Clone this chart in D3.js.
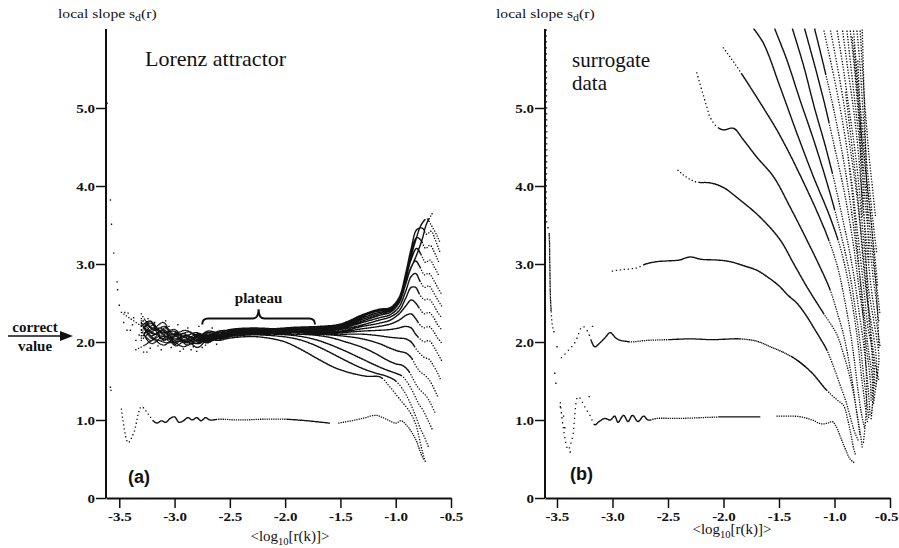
<!DOCTYPE html>
<html>
<head>
<meta charset="utf-8">
<script src="https://cdn.jsdelivr.net/npm/d3@7"></script>
<style>
  body { margin: 0; background: #fff; }
  svg { display: block; }
  text { font-family: "Liberation Serif", "Times New Roman", serif; fill: #111; }
</style>
</head>
<body>
<div id="chart"></div>
<script>
// ---- axis values ----
const xTicks = [-3.5, -3.0, -2.5, -2.0, -1.5, -1.0, -0.5];
const yTicks = [0, 1, 2, 3, 4, 5];

// ---- panel (a): Lorenz attractor, one curve per embedding dimension ----
const lorenz1 = [[-3.48,1.14],[-3.42,0.71],[-3.37,0.83],[-3.3,1.17],[-3.24,1.08],[-3.2,1.0],[-3.16,0.96],[-3.12,0.99],[-3.08,0.97],[-3.04,1.02],[-3.0,1.04],[-2.96,0.97],[-2.92,0.99],[-2.88,1.03],[-2.84,1.0],[-2.8,1.03],[-2.76,0.99],[-2.72,1.03],[-2.68,1.0],[-2.6,1.01],[-2.4,1.0],[-2.2,1.01],[-2.0,1.01],[-1.8,0.99],[-1.6,0.96],null,[-1.52,0.96],[-1.4,0.99],[-1.3,1.02],[-1.18,1.06],[-1.1,1.02],[-1.0,0.96],[-0.95,0.99],[-0.9,0.93],[-0.85,0.83],[-0.81,0.72],[-0.78,0.6],[-0.75,0.5]];
const lorenz2 = [[-3.35,1.9],[-3.27,1.96],[-3.18,2.03],[-3.07,1.99],[-2.95,2.01],[-2.83,1.98],[-2.7,2.03],[-2.6,2.02],[-2.5,2.05],[-2.3,2.07],[-2.15,2.05],[-2.0,2.0],[-1.85,1.9],[-1.7,1.78],[-1.55,1.67],[-1.4,1.6],[-1.26,1.56],[-1.14,1.55],[-1.05,1.42],[-0.96,1.26],[-0.88,1.12],[-0.82,0.95],[-0.78,0.72],[-0.75,0.55],[-0.73,0.46]];
const lorenz3 = [[-3.3,2.16],[-3.22,2.02],[-3.12,2.08],[-3.02,1.99],[-2.9,2.03],[-2.78,1.98],[-2.7,2.05],[-2.6,2.04],[-2.5,2.07],[-2.3,2.09],[-2.1,2.08],[-1.9,2.04],[-1.75,1.97],[-1.6,1.87],[-1.45,1.76],[-1.3,1.66],[-1.18,1.6],[-1.08,1.56],[-1.0,1.5],[-0.93,1.38],[-0.87,1.22],[-0.82,1.05],[-0.78,0.9],[-0.74,0.78],[-0.7,0.64]];
const lorenz4 = [[-3.3,2.02],[-3.21,2.12],[-3.08,2.03],[-2.98,2.07],[-2.88,2.0],[-2.8,2.05],[-2.7,2.01],[-2.6,2.07],[-2.5,2.08],[-2.3,2.1],[-2.1,2.1],[-1.9,2.08],[-1.75,2.04],[-1.6,1.97],[-1.45,1.88],[-1.3,1.78],[-1.18,1.7],[-1.08,1.64],[-1.0,1.6],[-0.94,1.56],[-0.88,1.45],[-0.83,1.32],[-0.79,1.2],[-0.75,1.12],[-0.71,1.0],[-0.67,0.88]];
const lorenz5 = [[-3.3,2.22],[-3.19,2.1],[-3.1,2.13],[-3.0,2.04],[-2.91,2.08],[-2.8,2.02],[-2.7,2.08],[-2.6,2.06],[-2.5,2.1],[-2.3,2.12],[-2.1,2.11],[-1.9,2.1],[-1.75,2.09],[-1.6,2.06],[-1.45,2.0],[-1.3,1.93],[-1.18,1.85],[-1.08,1.77],[-1.0,1.72],[-0.94,1.7],[-0.89,1.64],[-0.84,1.52],[-0.8,1.42],[-0.76,1.36],[-0.72,1.3],[-0.68,1.2],[-0.64,1.08]];
const lorenz6 = [[-3.3,2.08],[-3.17,2.17],[-3.06,2.05],[-2.97,2.1],[-2.86,2.03],[-2.8,2.08],[-2.7,2.05],[-2.6,2.1],[-2.5,2.11],[-2.3,2.13],[-2.1,2.12],[-1.9,2.12],[-1.7,2.1],[-1.5,2.08],[-1.3,2.04],[-1.15,1.98],[-1.05,1.92],[-0.97,1.88],[-0.91,1.86],[-0.86,1.8],[-0.82,1.7],[-0.78,1.62],[-0.74,1.58],[-0.7,1.52],[-0.66,1.42],[-0.62,1.3]];
const lorenz7 = [[-3.3,2.27],[-3.23,2.13],[-3.13,2.18],[-3.03,2.06],[-2.93,2.11],[-2.82,2.05],[-2.7,2.1],[-2.6,2.08],[-2.5,2.12],[-2.3,2.14],[-2.1,2.13],[-1.9,2.12],[-1.7,2.11],[-1.5,2.1],[-1.3,2.1],[-1.15,2.08],[-1.05,2.06],[-0.97,2.05],[-0.91,2.04],[-0.86,2.0],[-0.82,1.92],[-0.78,1.85],[-0.74,1.8],[-0.7,1.78],[-0.66,1.7],[-0.62,1.6],[-0.59,1.5]];
const lorenz8 = [[-3.3,2.16],[-3.2,2.24],[-3.11,2.1],[-3.01,2.14],[-2.89,2.05],[-2.79,2.1],[-2.7,2.06],[-2.6,2.12],[-2.5,2.13],[-2.3,2.15],[-2.1,2.14],[-1.9,2.13],[-1.7,2.12],[-1.5,2.12],[-1.3,2.14],[-1.15,2.15],[-1.05,2.16],[-0.97,2.18],[-0.91,2.2],[-0.86,2.18],[-0.82,2.1],[-0.78,2.04],[-0.74,2.0],[-0.7,2.02],[-0.66,1.95],[-0.62,1.85],[-0.58,1.75]];
const lorenz9 = [[-3.3,2.3],[-3.18,2.15],[-3.09,2.2],[-2.99,2.08],[-2.87,2.13],[-2.8,2.07],[-2.7,2.12],[-2.6,2.1],[-2.5,2.14],[-2.3,2.16],[-2.1,2.15],[-1.9,2.14],[-1.7,2.13],[-1.5,2.13],[-1.3,2.17],[-1.15,2.2],[-1.05,2.23],[-0.97,2.28],[-0.91,2.34],[-0.86,2.36],[-0.82,2.3],[-0.78,2.22],[-0.74,2.18],[-0.7,2.2],[-0.66,2.14],[-0.62,2.05],[-0.58,1.98]];
const lorenz10 = [[-3.3,2.2],[-3.22,2.27],[-3.12,2.12],[-3.0,2.16],[-2.92,2.07],[-2.81,2.12],[-2.7,2.08],[-2.6,2.14],[-2.5,2.15],[-2.3,2.17],[-2.1,2.16],[-1.9,2.15],[-1.7,2.14],[-1.5,2.14],[-1.3,2.2],[-1.15,2.24],[-1.05,2.28],[-0.97,2.36],[-0.91,2.46],[-0.86,2.54],[-0.82,2.5],[-0.78,2.42],[-0.74,2.36],[-0.7,2.38],[-0.66,2.32],[-0.62,2.22],[-0.58,2.15]];
const lorenz11 = [[-3.3,2.36],[-3.2,2.18],[-3.1,2.25],[-3.02,2.1],[-2.9,2.15],[-2.78,2.08],[-2.7,2.14],[-2.6,2.12],[-2.5,2.16],[-2.3,2.18],[-2.1,2.17],[-1.9,2.16],[-1.7,2.15],[-1.5,2.16],[-1.3,2.22],[-1.15,2.28],[-1.05,2.32],[-0.97,2.4],[-0.91,2.56],[-0.86,2.7],[-0.82,2.7],[-0.78,2.6],[-0.74,2.54],[-0.7,2.55],[-0.66,2.48],[-0.62,2.38],[-0.58,2.3]];
const lorenz12 = [[-3.3,2.25],[-3.21,2.08],[-3.1,2.16],[-3.0,2.02],[-2.89,2.09],[-2.8,2.01],[-2.7,2.07],[-2.6,2.05],[-2.5,2.09],[-2.3,2.11],[-2.1,2.12],[-1.9,2.13],[-1.7,2.14],[-1.5,2.17],[-1.3,2.25],[-1.15,2.31],[-1.05,2.35],[-0.97,2.45],[-0.91,2.65],[-0.86,2.84],[-0.82,2.88],[-0.78,2.78],[-0.74,2.7],[-0.7,2.72],[-0.66,2.64],[-0.62,2.54],[-0.58,2.45]];
const lorenz13 = [[-3.3,2.05],[-3.19,2.22],[-3.1,2.02],[-2.98,2.12],[-2.9,1.99],[-2.8,2.05],[-2.7,2.02],[-2.6,2.09],[-2.5,2.1],[-2.3,2.12],[-2.1,2.13],[-1.9,2.14],[-1.7,2.15],[-1.5,2.18],[-1.3,2.27],[-1.15,2.34],[-1.05,2.38],[-0.97,2.5],[-0.91,2.74],[-0.86,2.96],[-0.82,3.04],[-0.78,2.96],[-0.74,2.86],[-0.7,2.88],[-0.66,2.8],[-0.62,2.7],[-0.58,2.6]];
const lorenz14 = [[-3.3,2.3],[-3.18,2.1],[-3.08,2.18],[-3.0,1.97],[-2.91,2.06],[-2.8,1.98],[-2.7,2.06],[-2.6,2.06],[-2.5,2.1],[-2.3,2.13],[-2.1,2.14],[-1.9,2.15],[-1.7,2.16],[-1.5,2.19],[-1.3,2.29],[-1.15,2.36],[-1.05,2.4],[-0.97,2.53],[-0.91,2.8],[-0.86,3.06],[-0.81,3.2],[-0.77,3.12],[-0.73,3.02],[-0.69,3.05],[-0.65,2.96],[-0.61,2.85]];
const lorenz15 = [[-3.3,2.12],[-3.22,2.26],[-3.12,2.04],[-3.02,2.1],[-2.88,1.96],[-2.8,2.03],[-2.7,1.99],[-2.6,2.08],[-2.5,2.11],[-2.3,2.14],[-2.1,2.15],[-1.9,2.16],[-1.7,2.17],[-1.5,2.2],[-1.3,2.31],[-1.15,2.38],[-1.05,2.41],[-0.97,2.55],[-0.91,2.86],[-0.86,3.14],[-0.81,3.34],[-0.77,3.3],[-0.73,3.2],[-0.69,3.24],[-0.65,3.15],[-0.61,3.02]];
const lorenz16 = [[-3.3,2.24],[-3.2,2.04],[-3.11,2.15],[-2.99,1.95],[-2.9,2.02],[-2.79,1.93],[-2.7,2.04],[-2.6,2.07],[-2.5,2.12],[-2.3,2.15],[-2.1,2.16],[-1.9,2.17],[-1.7,2.18],[-1.5,2.21],[-1.3,2.33],[-1.15,2.4],[-1.05,2.42],[-0.97,2.56],[-0.91,2.88],[-0.86,3.2],[-0.81,3.44],[-0.76,3.46],[-0.72,3.38],[-0.68,3.42],[-0.64,3.3],[-0.6,3.15]];
const lorenz17 = [[-3.3,2.15],[-3.21,1.98],[-3.09,2.08],[-3.0,2.0],[-2.92,1.94],[-2.8,2.02],[-2.7,2.0],[-2.6,2.05],[-2.5,2.1],[-2.3,2.14],[-2.1,2.16],[-1.9,2.18],[-1.7,2.19],[-1.5,2.22],[-1.3,2.34],[-1.15,2.41],[-1.05,2.43],[-0.97,2.57],[-0.92,2.8],[-0.87,3.05],[-0.82,3.3],[-0.77,3.5],[-0.72,3.58],[-0.68,3.5],[-0.64,3.4],[-0.6,3.28]];
const lorenz18 = [[-3.48,2.38],[-3.4,2.3],[-3.3,2.2],[-3.2,2.06],[-3.1,1.96],[-3.0,2.04],[-2.9,2.0],[-2.8,2.07],[-2.7,2.03],[-2.6,2.09],[-2.5,2.12],[-2.3,2.15],[-2.1,2.17],[-1.9,2.19],[-1.7,2.2],[-1.5,2.23],[-1.3,2.35],[-1.15,2.42],[-1.05,2.44],[-0.97,2.56],[-0.93,2.68],[-0.87,2.92],[-0.81,3.12],[-0.76,3.32],[-0.72,3.52],[-0.66,3.67]];
const lorenzScatter = [[-3.61,5.06],[-3.58,3.82],[-3.57,3.51],[-3.55,3.14],[-3.52,2.77],[-3.515,2.67],[-3.5,2.47],[-3.48,2.38],[-3.45,2.38],[-3.42,2.37],[-3.37,2.31],[-3.43,2.15],[-3.4,2.15],[-3.32,2.09],[-3.28,1.87],[-3.25,1.87],[-3.58,1.42],[-3.575,1.38],[-3.46,2.25],[-3.38,2.22],[-3.35,2.02],[-3.22,1.92],[-3.18,2.25],[-3.12,1.9],[-3.05,2.2],[-2.95,1.88],[-2.85,1.9],[-2.8,1.88],[-2.75,1.93],[-3.27,2.12],[-3.24,2.3],[-3.15,1.95],[-3.08,2.27],[-3.03,1.93],[-2.97,2.22],[-2.92,1.91],[-2.88,2.18],[-2.83,1.94],[-2.78,2.2],[-2.72,1.96],[-2.66,2.18],[-2.62,1.97]];

// ---- panel (b): surrogate data ----
const surr1 = [[-3.47,1.22],[-3.44,0.87],[-3.4,0.62],[-3.36,0.78],[-3.31,1.3],[-3.25,1.17],[-3.2,1.05],[-3.16,0.94],[-3.12,0.98],[-3.07,1.02],[-3.02,1.0],[-2.98,1.05],[-2.95,0.97],[-2.9,1.06],[-2.86,0.98],[-2.82,1.06],[-2.77,0.98],[-2.72,1.05],[-2.68,1.0],[-2.6,1.02],[-2.4,1.02],[-2.2,1.03],[-2.0,1.04],[-1.8,1.04],[-1.67,1.04],null,[-1.52,1.05],[-1.4,1.05],[-1.3,1.04],[-1.2,1.0],[-1.12,0.95],[-1.06,0.96],[-1.02,0.98],[-0.98,0.9],[-0.94,0.76],[-0.9,0.62],[-0.86,0.5],[-0.82,0.45]];
const surr2 = [[-3.46,1.8],[-3.34,1.99],[-3.27,2.2],[-3.23,2.15],[-3.16,1.94],[-3.12,1.98],[-3.07,2.05],[-3.02,2.12],[-2.97,2.05],[-2.93,2.02],[-2.88,2.01],[-2.84,2.0],[-2.7,2.02],[-2.5,2.03],[-2.3,2.04],[-2.1,2.03],[-1.85,2.04],[-1.7,2.01],[-1.58,1.94],[-1.45,1.86],[-1.34,1.77],[-1.2,1.6],[-1.07,1.38],[-0.97,1.25],[-0.92,1.19],[-0.88,1.0],[-0.85,0.8],[-0.83,0.65],[-0.81,0.55]];
const surr3 = [[-3.0,2.91],[-2.9,2.93],[-2.78,2.95],[-2.7,3.0],[-2.6,3.03],[-2.5,3.04],[-2.4,3.05],[-2.3,3.09],[-2.2,3.06],[-2.05,3.05],[-1.94,3.03],[-1.8,2.97],[-1.7,2.92],[-1.61,2.84],[-1.5,2.72],[-1.42,2.6],[-1.34,2.5],[-1.26,2.35],[-1.19,2.19],[-1.13,2.05],[-1.07,1.9],[-1.0,1.65],[-0.95,1.45],[-0.9,1.25],[-0.86,1.05],[-0.82,0.85],[-0.78,0.72]];
const surr4 = [[-2.41,4.2],[-2.32,4.1],[-2.24,4.05],[-2.12,4.04],[-2.0,3.98],[-1.85,3.82],[-1.67,3.6],[-1.49,3.31],[-1.37,3.01],[-1.25,2.71],[-1.1,2.37],[-0.98,2.1],[-0.92,1.85],[-0.87,1.6],[-0.83,1.35],[-0.8,1.1],[-0.77,0.85],[-0.75,0.65]];
const surr5 = [[-2.24,5.45],[-2.15,5.01],[-2.12,4.88],[-2.06,4.76],[-2.0,4.72],[-1.91,4.74],[-1.82,4.59],[-1.7,4.37],[-1.55,4.12],[-1.4,3.73],[-1.25,3.31],[-1.13,2.96],[-1.04,2.67],[-0.98,2.4],[-0.92,2.1],[-0.87,1.75],[-0.83,1.4],[-0.8,1.1],[-0.77,0.8]];
const surr6 = [[-2.0,5.77],[-1.88,5.53],[-1.76,5.27],[-1.64,5.0],[-1.52,4.72],[-1.4,4.4],[-1.28,4.05],[-1.16,3.68],[-1.05,3.3],[-0.97,2.95],[-0.91,2.55],[-0.86,2.15],[-0.82,1.75],[-0.79,1.4],[-0.76,1.1],[-0.73,0.9]];
const surr7 = [[-1.73,6.02],[-1.64,5.83],[-1.49,5.27],[-1.34,4.68],[-1.19,4.12],[-1.04,3.6],[-0.95,3.22],[-0.88,2.8],[-0.83,2.4],[-0.79,2.0],[-0.76,1.6],[-0.73,1.25],[-0.7,0.95]];
const surr8 = [[-1.54,6.02],[-1.43,5.62],[-1.31,5.1],[-1.19,4.6],[-1.08,4.1],[-0.99,3.65],[-0.92,3.25],[-0.86,2.85],[-0.81,2.4],[-0.77,2.0],[-0.74,1.6],[-0.71,1.25],[-0.69,1.0]];
const surr9 = [[-1.38,6.02],[-1.28,5.55],[-1.18,5.0],[-1.08,4.5],[-1.0,4.05],[-0.93,3.6],[-0.87,3.2],[-0.82,2.8],[-0.78,2.4],[-0.74,2.0],[-0.71,1.6],[-0.69,1.3],[-0.68,1.05]];
const surr10 = [[-1.27,6.02],[-1.17,5.5],[-1.08,5.0],[-1.0,4.5],[-0.93,4.05],[-0.87,3.6],[-0.82,3.15],[-0.78,2.7],[-0.74,2.3],[-0.71,1.9],[-0.68,1.55],[-0.67,1.25]];
const surr11 = [[-1.18,6.02],[-1.09,5.5],[-1.01,5.0],[-0.94,4.5],[-0.88,4.0],[-0.83,3.5],[-0.79,3.05],[-0.75,2.6],[-0.72,2.2],[-0.69,1.85],[-0.66,1.55],[-0.66,1.3]];
const surr12 = [[-1.1,6.02],[-1.02,5.5],[-0.95,5.0],[-0.89,4.5],[-0.84,4.0],[-0.8,3.5],[-0.76,3.0],[-0.73,2.6],[-0.7,2.2],[-0.66,1.9],[-0.64,1.6],[-0.65,1.3],[-0.67,1.05]];
const surr13 = [[-1.04,6.02],[-0.97,5.5],[-0.91,5.0],[-0.86,4.5],[-0.81,4.0],[-0.77,3.5],[-0.74,3.0],[-0.71,2.6],[-0.67,2.25],[-0.64,2.0],[-0.62,1.7],[-0.63,1.4]];
const surr14 = [[-0.98,6.02],[-0.92,5.5],[-0.87,5.0],[-0.82,4.5],[-0.78,4.0],[-0.75,3.5],[-0.72,3.05],[-0.69,2.65],[-0.65,2.3],[-0.62,2.05],[-0.6,1.8],[-0.62,1.5],[-0.65,1.2]];
const surr15 = [[-0.93,6.02],[-0.88,5.5],[-0.83,5.0],[-0.79,4.5],[-0.76,4.0],[-0.73,3.55],[-0.7,3.1],[-0.67,2.7],[-0.64,2.4],[-0.61,2.15],[-0.59,1.95]];
const surr16 = [[-0.89,6.02],[-0.85,5.5],[-0.81,5.0],[-0.77,4.5],[-0.74,4.05],[-0.71,3.6],[-0.68,3.2],[-0.65,2.8],[-0.62,2.5],[-0.6,2.25]];
const surr17 = [[-0.86,6.02],[-0.82,5.5],[-0.79,5.0],[-0.76,4.55],[-0.73,4.1],[-0.7,3.7],[-0.67,3.3],[-0.64,2.9],[-0.61,2.6],[-0.59,2.35]];
const surr18 = [[-0.83,6.02],[-0.8,5.5],[-0.77,5.05],[-0.74,4.6],[-0.72,4.2],[-0.69,3.8],[-0.66,3.4],[-0.63,3.0],[-0.61,2.7]];
const surr19 = [[-0.8,6.02],[-0.77,5.55],[-0.75,5.1],[-0.73,4.7],[-0.71,4.3],[-0.68,3.9],[-0.65,3.5],[-0.62,3.15]];
const surr20 = [[-0.77,6.02],[-0.75,5.55],[-0.73,5.1],[-0.71,4.75],[-0.69,4.4],[-0.66,4.0],[-0.63,3.6]];
const surr21 = [[-0.84,5.9],[-0.8,5.3],[-0.76,4.7],[-0.72,4.2],[-0.68,3.7],[-0.65,3.2],[-0.63,2.8],[-0.61,2.3],[-0.6,1.9]];
const surr22 = [[-0.75,6.0],[-0.74,5.5],[-0.73,5.0],[-0.72,4.5],[-0.71,4.0],[-0.7,3.5],[-0.69,3.0]];
const surr23 = [[-0.9,5.2],[-0.85,4.6],[-0.8,4.0],[-0.76,3.4],[-0.72,2.8],[-0.69,2.3],[-0.66,1.8],[-0.65,1.4],[-0.67,1.0]];
const surr24 = [[-0.88,4.4],[-0.84,3.9],[-0.8,3.3],[-0.77,2.8],[-0.74,2.3],[-0.72,1.8],[-0.71,1.4],[-0.72,1.0],[-0.74,0.7]];
const surr25 = [[-0.79,5.6],[-0.77,5.0],[-0.75,4.4],[-0.74,3.8],[-0.72,3.2],[-0.7,2.6],[-0.67,2.1],[-0.63,1.7],[-0.6,1.5]];
const surr26 = [[-0.82,5.8],[-0.79,5.2],[-0.77,4.6],[-0.76,4.1],[-0.75,3.6]];
const surrEdge = [[-3.597,6.0],[-3.595,5.45],[-3.592,4.5],[-3.59,3.5],[-3.575,3.44],[-3.565,3.0],[-3.56,2.6],[-3.555,2.45],[-3.54,2.2],[-3.52,2.1]];
const surrScatter = [[-3.5,1.94],[-3.52,1.6],[-3.51,1.47],[-3.47,1.17],[-3.44,1.05],[-3.43,0.9],[-3.38,0.59],[-3.21,1.3],[-3.18,2.2]];

// ---- layout ----
const W = 899, H = 548;
const svg = d3.select("#chart").append("svg").attr("width", W).attr("height", H);

const y = d3.scaleLinear().domain([0, 6]).range([498, 30]);
const xa = d3.scaleLinear().domain([-3.62, -0.5]).range([106, 451]);
const xb = d3.scaleLinear().domain([-3.608, -0.5]).range([545, 890]);

const probe = svg.append("path").attr("fill", "none");

// sample each curve as a row of small dots, spaced by gap(x, y) in px
function dots(pts, x, gap) {
  const line = d3.line().defined(d => d !== null)
    .x(d => x(d[0])).y(d => y(d[1]))
    .curve(d3.curveCatmullRom.alpha(0.5));
  probe.attr("d", line(pts));
  const node = probe.node(), len = node.getTotalLength();
  let s = "";
  for (let l = 0; l <= len; ) {
    const p = node.getPointAtLength(l);
    if (p.y >= 29 && p.y <= 497)
      s += "M" + (p.x - 0.65).toFixed(1) + "," + (p.y - 0.65).toFixed(1) + "h1.3v1.3h-1.3z";
    l += gap(x.invert(p.x), y.invert(p.y));
  }
  return s;
}

function scatter(pts, x) {
  return pts.map(d => "M" + (x(d[0]) - 0.7).toFixed(1) + "," + (y(d[1]) - 0.7).toFixed(1) + "h1.4v1.4h-1.4z").join("");
}

// panel (a) dots
const lorenzCurves = [lorenz2, lorenz3, lorenz4, lorenz5, lorenz6, lorenz7, lorenz8, lorenz9, lorenz10,
  lorenz11, lorenz12, lorenz13, lorenz14, lorenz15, lorenz16, lorenz17, lorenz18];
const lorenzSolidEnd = [-1.12, -1.0, -0.95, -0.88, -0.85, -0.83, -0.8, -0.8, -0.79, -0.79, -0.78, -0.78, -0.77, -0.76, -0.75, -0.74, -0.7];

let pa = dots(lorenz1, xa, v => v < -3.2 ? 4 : v < -2.62 ? 0.8 : v < -2.0 ? 2.2 : v < -1.6 ? 0.8 : 2.3);
lorenzCurves.forEach((c, i) => {
  const hi = lorenzSolidEnd[i];
  pa += dots(c, xa, v => v < -3.28 ? 3 : v < -2.85 ? 1.5 : v < -2.7 ? 1.1 : v < hi ? 0.8 : 2.8);
});
pa += scatter(lorenzScatter, xa);
svg.append("path").attr("d", pa).attr("fill", "#111");

// panel (b) dots
let pb = "";
pb += dots(surr1, xb, v => v < -3.18 ? 5 : v < -2.66 ? 0.8 : v < -2.05 ? 2.2 : v < -1.67 ? 0.8 : 2.3);
pb += dots(surr2, xb, v => v < -3.2 ? 5 : v < -2.85 ? 0.9 : v < -2.5 ? 2.2 : v < -1.85 ? 0.8 : v < -1.4 ? 1.8 : v < -1.07 ? 0.8 : 2.5);
pb += dots(surr3, xb, v => v < -2.75 ? 4 : v < -1.07 ? 0.8 : 2.5);
pb += dots(surr4, xb, v => v < -2.25 ? 3.5 : v < -1.1 ? 0.8 : 2.5);
pb += dots(surr5, xb, v => v < -2.05 ? 4 : v < -1.04 ? 0.8 : 2.5);
pb += dots(surr6, xb, v => v < -1.85 ? 3.5 : v < -1.05 ? 0.8 : 2.5);
[surr7, surr8, surr9, surr10, surr11].forEach((c, i) => {
  const hi = [-0.97, -1.0, -1.02, -1.05, -1.08][i];
  pb += dots(c, xb, v => v < hi ? 0.8 : 2.6);
});
[surr12, surr13, surr14, surr15, surr16, surr17, surr18, surr19, surr20,
 surr21, surr22, surr23, surr24, surr25, surr26].forEach(c => {
  pb += dots(c, xb, () => 2.8);
});
pb += dots(surrEdge, xb, (v, w) => w > 3.45 ? 6 : w > 2.4 ? 1.6 : 4);
pb += scatter(surrScatter, xb);
svg.append("path").attr("d", pb).attr("fill", "#111");
probe.remove();

// ---- axes ----
const SX = 1.2; // small print in the scan is stretched horizontally
function drawAxes(x, lastEnd) {
  const gx = svg.append("g").attr("transform", "translate(0,498)")
    .call(d3.axisBottom(x).tickValues(xTicks).tickFormat(d => d.toFixed(1)).tickSize(10).tickSizeOuter(0).tickPadding(4));
  const gy = svg.append("g").attr("transform", "translate(" + x.range()[0] + ",0)")
    .call(d3.axisLeft(y).tickValues(yTicks).tickFormat(d => d === 0 ? "0" : d.toFixed(1)).tickSize(10).tickSizeOuter(0).tickPadding(2));
  [gx, gy].forEach(g => {
    g.select(".domain").attr("stroke", "#111").attr("stroke-width", 2);
    g.selectAll(".tick line").attr("stroke", "#111").attr("stroke-width", 1.5);
    g.selectAll(".tick text").attr("fill", "#111")
      .style("font-family", '"Liberation Serif", serif').style("font-size", "12.5px").style("font-weight", "bold")
      .attr("transform", `scale(${SX},1)`);
  });
  gy.selectAll(".tick text").attr("x", -11 / SX);
  if (lastEnd) gx.selectAll(".tick text").filter(d => d === -0.5).attr("text-anchor", "end").attr("x", 8 / SX);
  gy.select(".domain").attr("d", "M0,498V29");
}
drawAxes(xa, false);
drawAxes(xb, true);

// ---- texts ----
function yTitle(x0) {
  const t = svg.append("text").attr("transform", `translate(${x0},18) scale(1.25,1)`).style("font-size", "12.5px");
  t.append("tspan").text("local slope  s");
  t.append("tspan").attr("dy", 3).style("font-size", "9.5px").text("d");
  t.append("tspan").attr("dy", -3).text("(r)");
}
yTitle(58);
yTitle(496);

function xTitle(cx, by) {
  const t = svg.append("text").attr("x", cx).attr("y", by).attr("text-anchor", "middle").style("font-size", "15px");
  t.append("tspan").text("<log");
  t.append("tspan").attr("dy", 4).style("font-size", "10.5px").text("10");
  t.append("tspan").attr("dy", -4).text("[r(k)]>");
}
xTitle(290, 541);
xTitle(732, 534);

svg.append("text").attr("x", 145).attr("y", 66).style("font-size", "22px").text("Lorenz attractor");
svg.append("text").attr("x", 572).attr("y", 67).style("font-size", "21px").text("surrogate");
svg.append("text").attr("x", 572).attr("y", 90).style("font-size", "21px").text("data");

svg.append("text").attr("x", 128).attr("y", 483)
  .style("font-family", '"Liberation Sans", Arial, sans-serif').style("font-size", "18px").style("font-weight", "bold").text("(a)");
svg.append("text").attr("x", 570).attr("y", 480)
  .style("font-family", '"Liberation Sans", Arial, sans-serif').style("font-size", "18px").style("font-weight", "bold").text("(b)");

// plateau brace
const bx0 = xa(-2.75), bx1 = xa(-1.73), bxm = xa(-2.24), byb = y(2.3), byc = y(2.42);
svg.append("path")
  .attr("d", `M${bx0},${byb + 6} Q${bx0},${byb} ${bx0 + 6},${byb} L${bxm - 6},${byb} Q${bxm},${byb} ${bxm},${byc} Q${bxm},${byb} ${bxm + 6},${byb} L${bx1 - 6},${byb} Q${bx1},${byb} ${bx1},${byb + 6}`)
  .attr("fill", "none").attr("stroke", "#111").attr("stroke-width", 2);
svg.append("text").attr("x", bxm).attr("y", 303).attr("text-anchor", "middle")
  .style("font-size", "15px").style("font-weight", "bold").text("plateau");

// correct value arrow
svg.append("text").attr("x", 35).attr("y", 332).attr("text-anchor", "middle")
  .style("font-size", "15px").style("font-weight", "bold").text("correct");
svg.append("text").attr("x", 35).attr("y", 351).attr("text-anchor", "middle")
  .style("font-size", "15px").style("font-weight", "bold").text("value");
svg.append("line").attr("x1", 8).attr("x2", 62).attr("y1", 336).attr("y2", 336)
  .attr("stroke", "#111").attr("stroke-width", 1.5);
svg.append("path").attr("d", "M60,331L73,336L60,341Z").attr("fill", "#111");
</script>
</body>
</html>
